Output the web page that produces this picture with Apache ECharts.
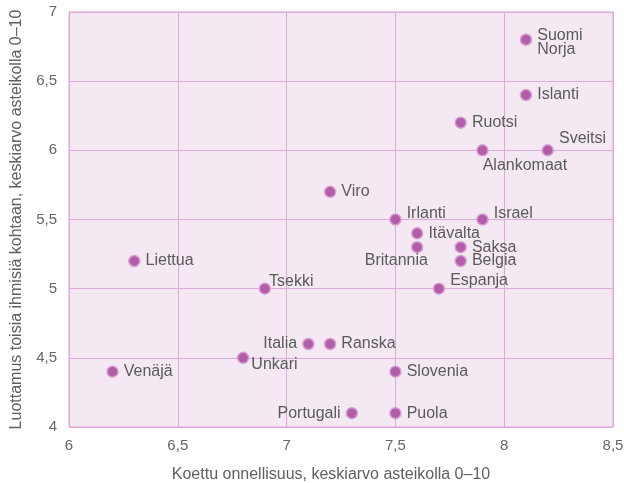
<!DOCTYPE html>
<html>
<head>
<meta charset="utf-8">
<script src="https://cdn.jsdelivr.net/npm/echarts@6/dist/echarts.min.js"></script>
<style>
  html, body { margin: 0; padding: 0; background: #fff; }
  #chart { width: 624px; height: 483px; }
</style>
</head>
<body>
<div id="chart"></div>
<script>
// maat, koettu onnellisuus (x) ja luottamus (y)
var countries = ['Suomi', 'Norja', 'Islanti', 'Ruotsi', 'Alankomaat', 'Sveitsi', 'Viro', 'Irlanti',
  'Israel', 'Itävalta', 'Britannia', 'Saksa', 'Belgia', 'Liettua', 'Tsekki', 'Espanja',
  'Italia', 'Ranska', 'Unkari', 'Venäjä', 'Slovenia', 'Portugali', 'Puola'];
var happiness = [8.1, 8.1, 8.1, 7.8, 7.9, 8.2, 7.2, 7.5,
  7.9, 7.6, 7.6, 7.8, 7.8, 6.3, 6.9, 7.7,
  7.1, 7.2, 6.8, 6.2, 7.5, 7.3, 7.5];
var trust = [6.8, 6.8, 6.4, 6.2, 6.0, 6.0, 5.7, 5.5,
  5.5, 5.4, 5.3, 5.3, 5.2, 5.2, 5.0, 5.0,
  4.6, 4.6, 4.5, 4.4, 4.4, 4.1, 4.1];

var font = "'Liberation Sans', Arial, Helvetica, sans-serif";
var fmt = function (v) { return String(v).replace('.', ','); };

// labelien sijainnit, muut oikealla
var labelTweaks = {
  'Suomi': { formatter: 'Suomi\nNorja', offset: [0, 3], lineHeight: 14 },
  'Norja': { show: false },
  'Alankomaat': { offset: [-11, 15] },
  'Sveitsi': { offset: [0, -12] },
  'Irlanti': { offset: [0, -6] },
  'Israel': { offset: [0, -6] },
  'Espanja': { offset: [0, -8] },
  'Tsekki': { offset: [-7, -7] },
  'Unkari': { offset: [-3, 7] },
  'Britannia': { position: 'left', offset: [22, 13] },
  'Italia': { position: 'left' },
  'Portugali': { position: 'left' }
};

var points = countries.map(function (n, i) {
  var d = { name: n, value: [happiness[i], trust[i]] };
  if (labelTweaks[n]) d.label = labelTweaks[n];
  return d;
});

var chart = echarts.init(document.getElementById('chart'));
chart.setOption({
  animation: false,
  textStyle: { fontFamily: font },
  grid: {
    left: 69, right: 11, top: 12, bottom: 56,
    outerBoundsMode: 'none', containLabel: false,
    show: true, backgroundColor: '#f4e9f3', borderColor: '#d9a3d3', borderWidth: 1
  },
  xAxis: {
    type: 'value', min: 6, max: 8.5, interval: 0.5,
    name: 'Koettu onnellisuus, keskiarvo asteikolla 0–10',
    nameLocation: 'middle', nameGap: 40,
    nameTextStyle: { color: '#5f5f5f', fontSize: 16, fontFamily: font, padding: [0, 20, 0, 0] },
    axisLine: { show: false }, axisTick: { show: false },
    axisLabel: { color: '#666', fontSize: 15, margin: 11, formatter: fmt, fontFamily: font },
    splitLine: { lineStyle: { color: '#dcaad8', width: 1 } }
  },
  yAxis: {
    type: 'value', min: 4, max: 7, interval: 0.5,
    name: 'Luottamus toisia ihmisiä kohtaan, keskiarvo asteikolla 0–10',
    nameLocation: 'middle', nameGap: 44, nameRotate: 90,
    nameTextStyle: { color: '#5f5f5f', fontSize: 16, fontFamily: font },
    axisLine: { show: false }, axisTick: { show: false },
    axisLabel: { color: '#666', fontSize: 15, margin: 12, formatter: fmt, fontFamily: font },
    splitLine: { lineStyle: { color: '#dcaad8', width: 1 } }
  },
  series: [{
    type: 'scatter',
    symbolSize: 11,
    itemStyle: { color: '#b35ca9', borderColor: '#d79ed0', borderWidth: 1.5, opacity: 1 },
    label: {
      show: true, position: 'right', distance: 5,
      formatter: '{b}', color: '#5a5a5a', fontSize: 16, fontFamily: font
    },
    data: points
  }]
});
</script>
</body>
</html>
